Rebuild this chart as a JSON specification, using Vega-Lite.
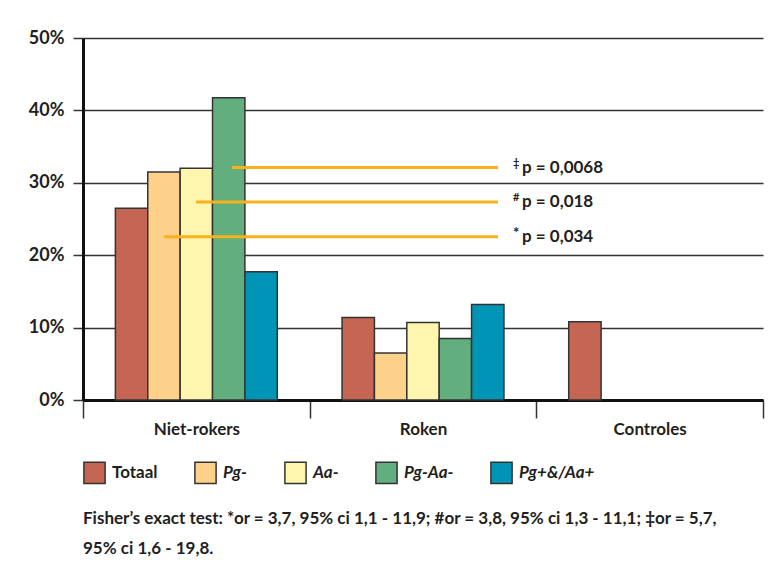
{
  "$schema": "https://vega.github.io/schema/vega-lite/v6.json",
  "width": 680,
  "height": 362,
  "autosize": {"type": "none"},
  "padding": {"left": 83, "top": 38, "right": 20, "bottom": 178},
  "background": "white",
  "config": {"font": "Lato", "view": {"stroke": null}},
  "datasets": {
    "bars": [
      {"group": "Niet-rokers", "series": "Totaal", "value": 26.5},
      {"group": "Niet-rokers", "series": "Pg-", "value": 31.5},
      {"group": "Niet-rokers", "series": "Aa-", "value": 32.0},
      {"group": "Niet-rokers", "series": "Pg-Aa-", "value": 41.75},
      {"group": "Niet-rokers", "series": "Pg+&/Aa+", "value": 17.7},
      {"group": "Roken", "series": "Totaal", "value": 11.4},
      {"group": "Roken", "series": "Pg-", "value": 6.5},
      {"group": "Roken", "series": "Aa-", "value": 10.7},
      {"group": "Roken", "series": "Pg-Aa-", "value": 8.5},
      {"group": "Roken", "series": "Pg+&/Aa+", "value": 13.2},
      {"group": "Controles", "series": "Totaal", "value": 10.8}
    ],
    "ann": [
      {"pos": 32.1, "start": 0.657, "end": 1.831, "sym": "‡", "label": "p = 0,0068"},
      {"pos": 27.35, "start": 0.4985, "end": 1.831, "sym": "#", "label": "p = 0,018"},
      {"pos": 22.55, "start": 0.357, "end": 1.831, "sym": "*", "label": "p = 0,034"}
    ]
  },
  "title": {
    "text": ["Fisher’s exact test: *or = 3,7, 95% ci 1,1 - 11,9; #or = 3,8, 95% ci 1,3 - 11,1; ‡or = 5,7,", "95% ci 1,6 - 19,8."],
    "orient": "bottom",
    "anchor": "start",
    "frame": "group",
    "fontSize": 17,
    "fontWeight": "bold",
    "color": "#231f20",
    "lineHeight": 30,
    "offset": 24
  },
  "layer": [
    {
      "data": {"name": "bars"},
      "mark": {"type": "bar", "stroke": "#333333", "strokeWidth": 1.5},
      "encoding": {
        "x": {
          "field": "group", "type": "nominal",
          "sort": ["Niet-rokers", "Roken", "Controles"],
          "scale": {"domain": ["Niet-rokers", "Roken", "Controles"], "paddingInner": 0, "paddingOuter": 0},
          "axis": {
            "title": null, "labelAngle": 0, "labelFontSize": 17, "labelFontWeight": "bold",
            "labelColor": "#231f20", "labelPadding": 3, "tickBand": "extent", "tickSize": 18,
            "tickColor": "#333333", "tickWidth": 1.5, "domainColor": "#111111", "domainWidth": 3, "grid": false
          }
        },
        "xOffset": {
          "field": "series", "type": "nominal",
          "scale": {"domain": ["Totaal", "Pg-", "Aa-", "Pg-Aa-", "Pg+&/Aa+"], "paddingInner": 0, "paddingOuter": 1.05}
        },
        "y": {
          "field": "value", "type": "quantitative",
          "scale": {"domain": [0, 50]},
          "axis": {
            "title": null, "values": [0, 10, 20, 30, 40, 50], "labelExpr": "datum.value + '%'",
            "labelFontSize": 18, "labelFontWeight": "bold", "labelColor": "#231f20",
            "tickSize": 10, "tickColor": "#333333", "tickWidth": 1.5, "labelPadding": 9,
            "domainColor": "#111111", "domainWidth": 3, "grid": true,
            "gridColor": "#333333", "gridWidth": 1.5, "gridOpacity": 1
          }
        },
        "color": {
          "field": "series", "type": "nominal",
          "scale": {
            "domain": ["Totaal", "Pg-", "Aa-", "Pg-Aa-", "Pg+&/Aa+"],
            "range": ["#C56654", "#FDD18A", "#FEF6AE", "#62AE7E", "#0094B6"]
          },
          "legend": {
            "title": null, "orient": "none", "legendX": 0, "legendY": 423, "direction": "horizontal",
            "symbolType": "square", "symbolSize": 450, "symbolStrokeColor": "#333333", "symbolStrokeWidth": 1.5,
            "symbolOpacity": 1,
            "labelFontSize": 17, "labelFontWeight": "bold", "labelColor": "#231f20", "labelOffset": 6,
            "columnPadding": 33,
            "encode": {"labels": {"update": {"fontStyle": {"signal": "datum.label === 'Totaal' ? 'normal' : 'italic'"}}}}
          }
        }
      }
    },
    {
      "data": {"name": "ann"},
      "mark": {"type": "rule", "color": "#F9B21B", "strokeWidth": 3},
      "encoding": {
        "x": {"field": "start", "type": "quantitative", "scale": {"domain": [0, 3]}, "axis": null},
        "x2": {"field": "end"},
        "y": {"field": "pos", "type": "quantitative", "scale": {"domain": [0, 50]}}
      }
    },
    {
      "data": {"name": "ann"},
      "mark": {"type": "text", "align": "left", "baseline": "middle", "dx": 15, "dy": -4, "fontWeight": "bold", "color": "#231f20"},
      "encoding": {
        "x": {"field": "end", "type": "quantitative", "scale": {"domain": [0, 3]}, "axis": null},
        "y": {"field": "pos", "type": "quantitative", "scale": {"domain": [0, 50]}},
        "text": {"field": "sym"},
        "size": {"condition": {"test": "datum.sym === '*'", "value": 15}, "value": 11}
      }
    },
    {
      "data": {"name": "ann"},
      "mark": {"type": "text", "align": "left", "baseline": "middle", "dx": 24, "fontSize": 17, "fontWeight": "bold", "color": "#231f20"},
      "encoding": {
        "x": {"field": "end", "type": "quantitative", "scale": {"domain": [0, 3]}, "axis": null},
        "y": {"field": "pos", "type": "quantitative", "scale": {"domain": [0, 50]}},
        "text": {"field": "label"}
      }
    }
  ],
  "resolve": {"scale": {"x": "independent"}}
}
